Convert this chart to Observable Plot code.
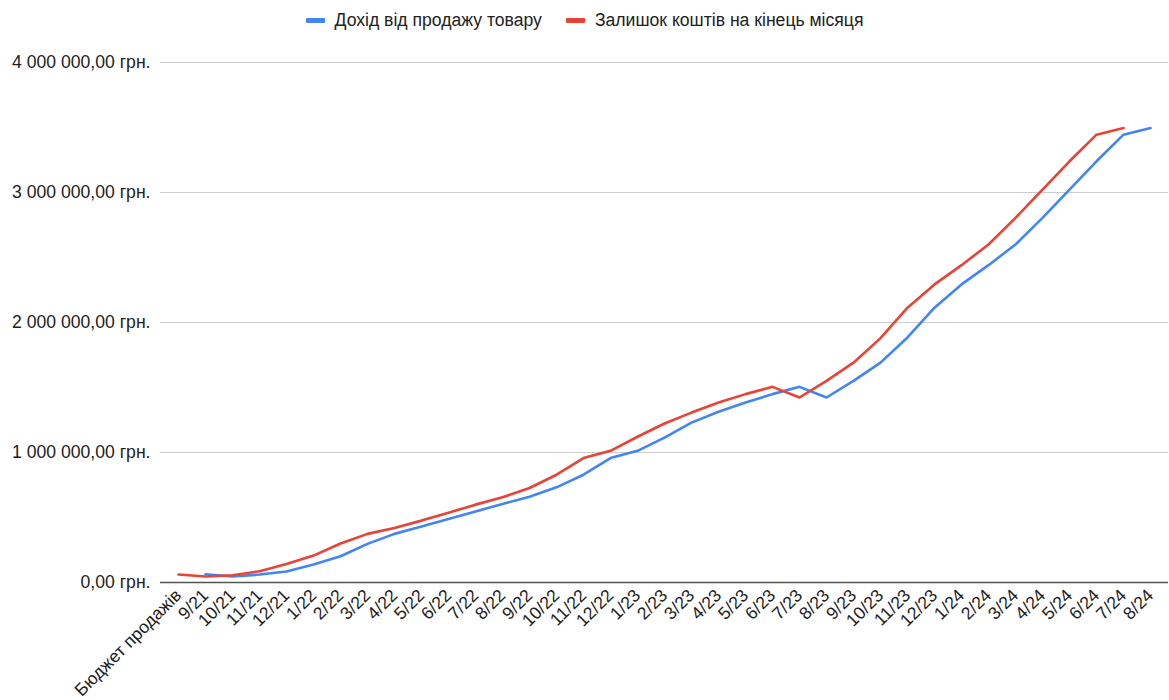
<!DOCTYPE html>
<html>
<head>
<meta charset="utf-8">
<script src="https://cdn.jsdelivr.net/npm/d3@7"></script>
<script src="https://cdn.jsdelivr.net/npm/@observablehq/plot@0.6"></script>
<style>
  html, body { margin: 0; padding: 0; background: #fff; }
  body { width: 1169px; height: 700px; overflow: hidden; font-family: "Liberation Sans", Arial, sans-serif; color: #222; }
  #legend { height: 40px; display: flex; justify-content: center; align-items: center; font-size: 17.6px; }
  .item { display: flex; align-items: center; margin: 0 12px; }
  .swatch { width: 19px; height: 5px; border-radius: 1px; margin-right: 10px; }
</style>
</head>
<body>
<div id="legend"></div>
<div id="chart"></div>
<script>
// Months on the x axis (first entry is the starting sales budget)
const labels = [
  "Бюджет продажів", "9/21", "10/21", "11/21", "12/21",
  "1/22", "2/22", "3/22", "4/22", "5/22", "6/22", "7/22", "8/22", "9/22", "10/22", "11/22", "12/22",
  "1/23", "2/23", "3/23", "4/23", "5/23", "6/23", "7/23", "8/23", "9/23", "10/23", "11/23", "12/23",
  "1/24", "2/24", "3/24", "4/24", "5/24", "6/24", "7/24", "8/24"
];

// Revenue from product sales, UAH (no value for the budget column)
const revenue = [
  null, 63000, 46000, 61000, 84000,
  138000, 202000, 297000, 374000, 430000, 489000, 547000, 604000, 660000, 732000, 829000, 957000,
  1013000, 1115000, 1230000, 1313000, 1384000, 1449000, 1505000, 1423000, 1551000, 1691000, 1885000, 2114000,
  2293000, 2441000, 2600000, 2805000, 3022000, 3240000, 3445000, 3496000
];

// Balance at the end of the month, UAH (no value for the last month)
const balance = [
  61000, 46000, 56000, 87000, 143000,
  207000, 300000, 374000, 420000, 476000, 537000, 599000, 655000, 727000, 829000, 957000, 1013000,
  1121000, 1223000, 1307000, 1384000, 1449000, 1505000, 1423000, 1551000, 1691000, 1880000, 2114000, 2293000,
  2441000, 2600000, 2805000, 3022000, 3240000, 3445000, 3496000, null
];

const yTicks = [0, 1000000, 2000000, 3000000, 4000000];

const seriesNames = ["Дохід від продажу товару", "Залишок коштів на кінець місяця"];
const seriesColors = ["#4285f4", "#ea4335"];

// Legend above the chart
const legend = document.getElementById("legend");
seriesNames.forEach((name, i) => {
  const item = document.createElement("div");
  item.className = "item";
  const sw = document.createElement("span");
  sw.className = "swatch";
  sw.style.background = seriesColors[i];
  const txt = document.createElement("span");
  txt.textContent = name;
  item.append(sw, txt);
  legend.append(item);
});

const rows = [];
labels.forEach((m, i) => {
  if (revenue[i] != null) rows.push({month: m, value: revenue[i], series: seriesNames[0]});
});
labels.forEach((m, i) => {
  if (balance[i] != null) rows.push({month: m, value: balance[i], series: seriesNames[1]});
});

const fmtUAH = v => d3.format(",")(v).replace(/,/g, " ") + ",00 грн.";

const chart = Plot.plot({
  width: 1169,
  height: 660,
  marginTop: 22,
  marginBottom: 118,
  marginLeft: 160,
  marginRight: 1,
  style: {fontFamily: "'Liberation Sans', Arial, sans-serif", fontSize: "17.6px", color: "#222", background: "#fff"},
  x: {type: "point", domain: labels, padding: 0.5},
  y: {domain: [0, 4000000]},
  color: {domain: seriesNames, range: seriesColors},
  marks: [
    Plot.ruleY(yTicks.filter(d => d > 0), {stroke: "#cccccc", strokeWidth: 1.2, strokeOpacity: 1}),
    Plot.ruleY([0], {stroke: "#555", strokeWidth: 1.6}),
    Plot.axisY({ticks: yTicks, tickSize: 0, tickPadding: 10, tickFormat: fmtUAH, label: null}),
    Plot.axisX({tickRotate: -45, tickSize: 0, tickPadding: 10, label: null}),
    Plot.line(rows, {x: "month", y: "value", z: "series", stroke: "series", strokeWidth: 2.6, strokeLinejoin: "round", strokeLinecap: "round"})
  ]
});
document.getElementById("chart").append(chart);
</script>
</body>
</html>
